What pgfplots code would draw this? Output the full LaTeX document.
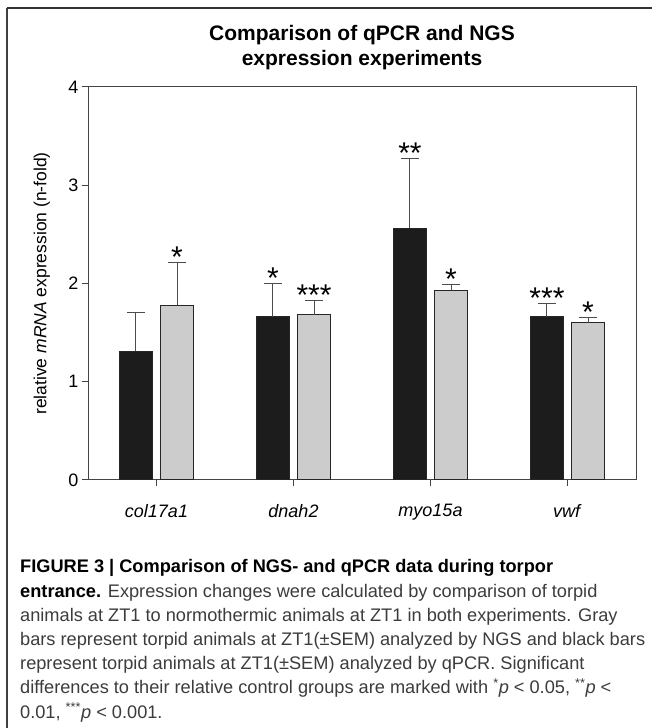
\documentclass[border=0pt]{standalone}
\usepackage{pgfplots}
\pgfplotsset{compat=1.18}
\usepackage{fontspec}
\setmainfont{Liberation Sans}

\definecolor{barblack}{HTML}{1C1C1C}
\definecolor{bargray}{HTML}{CCCCCC}
\definecolor{axisgray}{HTML}{444444}
\definecolor{captext}{HTML}{3C3C3C}

\newcommand{\capfont}{\fontsize{18.2}{24}\selectfont}

\begin{document}
\begin{tikzpicture}
  \useasboundingbox (0,0) rectangle (652pt,728pt);
  % frame (top and left edge only)
  \draw[black!75, line width=1.5pt] (7pt,0) -- (7pt,720pt);
  \draw[black!80, line width=1.5pt] (7pt,720pt) -- (652pt,720pt);

  % title
  \node[align=center, font=\fontsize{21}{25}\selectfont\bfseries]
    at (362pt,680pt) {Comparison of qPCR and NGS\\expression experiments};

  \begin{axis}[
    at={(88pt,248pt)}, anchor=south west,
    scale only axis, width=548pt, height=393pt,
    xmin=0.5, xmax=4.5, ymin=0, ymax=4,
    xtick={1,2,3,4},
    xticklabels={\textit{col17a1},\textit{dnah2},\textit{myo15a},\textit{vwf}},
    ytick={0,1,2,3,4},
    xtick pos=bottom, ytick pos=left,
    tick align=outside, major tick length=6pt,
    axis line style={draw=axisgray, line width=1pt},
    every tick/.style={draw=axisgray, line width=1pt},
    tick label style={font=\fontsize{18}{20}\selectfont},
    /pgf/number format/assume math mode=true,
    xticklabel style={yshift=-15pt},
    ylabel={relative \textit{mRNA} expression (n-fold)},
    ylabel style={at={(axis description cs:-0.084,0.5)}, anchor=center,
      font=\fontsize{17.5}{20}\selectfont},
    clip=false,
    error bars/error bar style={draw=black!70, line width=1pt},
    error bars/error mark options={rotate=90, draw=black!70, line width=1pt, mark size=9pt},
  ]
    % qPCR (black), plotted left of each category tick
    \addplot[ybar, bar width=0.24, bar shift=0, fill=barblack, draw=black!85, line width=1pt,
      error bars/.cd, y dir=plus, y explicit]
      coordinates {(0.85,1.31) +- (0,0.39) (1.85,1.66) +- (0,0.34) (2.85,2.56) +- (0,0.71) (3.85,1.66) +- (0,0.14)};
    % NGS (gray), right of each tick
    \addplot[ybar, bar width=0.24, bar shift=0, fill=bargray, draw=black!85, line width=1pt,
      error bars/.cd, y dir=plus, y explicit]
      coordinates {(1.15,1.78) +- (0,0.43) (2.15,1.68) +- (0,0.15) (3.15,1.93) +- (0,0.06) (4.15,1.60) +- (0,0.05)};
    % significance stars above the error bars
    \addplot[draw=none, mark=none, nodes near coords, point meta=explicit symbolic,
      every node near coord/.append style={anchor=base, yshift=-5pt,
        font=\fontsize{30}{30}\selectfont}]
      table[meta=s] {
        x    y    s
        0.85 1.70 {}
        1.15 2.21 *
        1.85 2.00 *
        2.15 1.83 ***
        2.85 3.27 **
        3.15 1.99 *
        3.85 1.80 ***
        4.15 1.65 *
      };
  \end{axis}

  % caption
  \begin{scope}[every node/.style={anchor=base west, inner sep=0pt, font=\capfont, text=captext}]
    \node at (20pt,155pt) {\color{black}\bfseries FIGURE 3 | Comparison of NGS- and qPCR data during torpor};
    \node at (20pt,130.8pt) {{\color{black}\bfseries entrance.} Expression changes were calculated by comparison of torpid};
    \node at (20pt,106.6pt) {animals at ZT1 to normothermic animals at ZT1 in both experiments. Gray};
    \node at (20pt,82.4pt) {bars represent torpid animals at ZT1(±SEM) analyzed by NGS and black bars};
    \node at (20pt,58.2pt) {represent torpid animals at ZT1(±SEM) analyzed by qPCR. Significant};
    \node at (20pt,34pt) {differences to their relative control groups are marked with \textsuperscript{*}\textit{p} < 0.05, \textsuperscript{**}\textit{p} <};
    \node at (20pt,9.8pt) {0.01, \textsuperscript{***}\textit{p} < 0.001.};
  \end{scope}
\end{tikzpicture}
\end{document}
